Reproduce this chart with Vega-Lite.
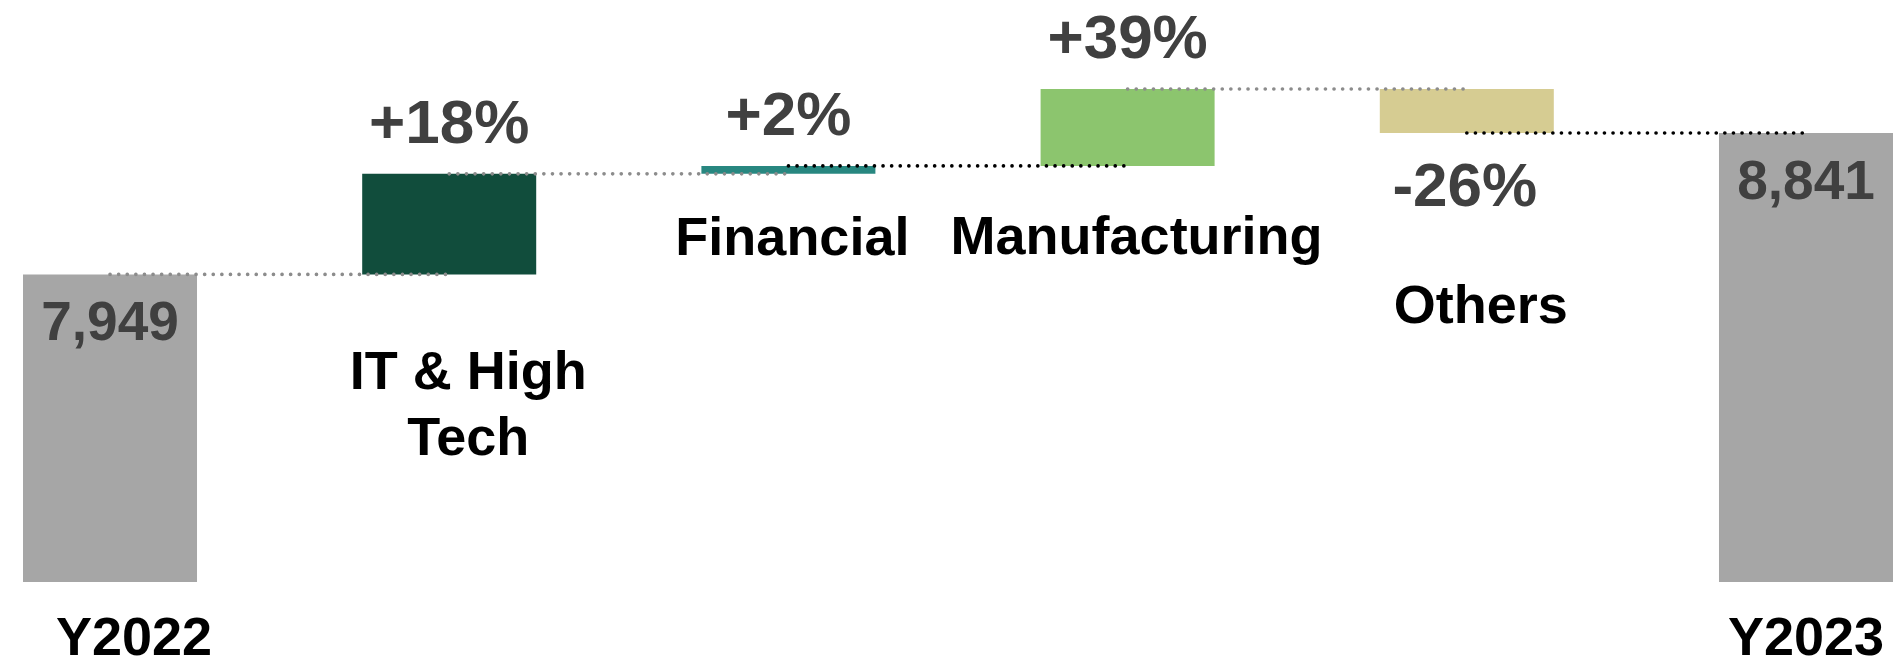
{
  "$schema": "https://vega.github.io/schema/vega-lite/v6.json",
  "width": 1870,
  "height": 582,
  "autosize": {"type": "none"},
  "padding": {"left": 23, "right": 5, "top": 0, "bottom": 80},
  "background": "white",
  "config": {
    "view": {"stroke": null},
    "text": {"font": "Liberation Sans", "fontWeight": "bold", "align": "center", "baseline": "alphabetic"}
  },
  "data": {
    "values": [
      {"cat": "Y2022", "label": "Y2022", "start": 0, "end": 7949, "next": "IT & High Tech", "kind": "total"},
      {"cat": "IT & High Tech", "label": "IT & High\nTech", "start": 7949, "end": 8583, "next": "Financial", "pct": "+18%", "kind": "delta"},
      {"cat": "Financial", "label": "Financial", "start": 8583, "end": 8633, "next": "Manufacturing", "pct": "+2%", "kind": "delta"},
      {"cat": "Manufacturing", "label": "Manufacturing", "start": 8633, "end": 9118, "next": "Others", "pct": "+39%", "kind": "delta"},
      {"cat": "Others", "label": "Others", "start": 9118, "end": 8841, "next": "Y2023", "pct": "-26%", "kind": "delta"},
      {"cat": "Y2023", "label": "Y2023", "start": 0, "end": 8841, "kind": "total"}
    ]
  },
  "encoding": {
    "x": {
      "field": "cat",
      "type": "nominal",
      "axis": null,
      "scale": {
        "domain": ["Y2022", "IT & High Tech", "Financial", "Manufacturing", "Others", "Y2023"],
        "paddingInner": 0.487,
        "paddingOuter": 0
      }
    }
  },
  "layer": [
    {
      "mark": {"type": "bar"},
      "encoding": {
        "y": {
          "field": "start",
          "type": "quantitative",
          "axis": null,
          "scale": {"domain": [6010, 9679], "nice": false, "zero": false, "clamp": true}
        },
        "y2": {"field": "end"},
        "color": {
          "field": "cat",
          "type": "nominal",
          "legend": null,
          "scale": {
            "domain": ["Y2022", "IT & High Tech", "Financial", "Manufacturing", "Others", "Y2023"],
            "range": ["#a6a6a6", "#114d3c", "#288780", "#8cc56e", "#d6cc92", "#a6a6a6"]
          }
        }
      }
    },
    {
      "transform": [
        {"filter": "datum.next != null"},
        {"fold": ["cat", "next"], "as": ["role", "pos"]}
      ],
      "mark": {"type": "line", "strokeWidth": 3.6, "strokeCap": "round", "strokeDash": [0.1, 8.5]},
      "encoding": {
        "x": {"field": "pos", "type": "nominal"},
        "y": {"field": "end", "type": "quantitative"},
        "detail": {"field": "cat", "type": "nominal"},
        "color": {
          "condition": {"test": "datum.cat === 'Financial' || datum.cat === 'Others'", "value": "#000000"},
          "value": "#8c8c8c"
        }
      }
    },
    {
      "transform": [{"filter": "datum.kind === 'total'"}],
      "mark": {"type": "text", "fontSize": 55, "dy": 66, "color": "#404040"},
      "encoding": {
        "y": {"field": "end", "type": "quantitative"},
        "text": {"field": "end", "type": "quantitative", "format": ","}
      }
    },
    {
      "transform": [{"filter": "datum.kind === 'delta' && datum.end > datum.start"}],
      "mark": {"type": "text", "fontSize": 62, "dy": -31, "color": "#404040"},
      "encoding": {
        "y": {"field": "end", "type": "quantitative"},
        "text": {"field": "pct", "type": "nominal"}
      }
    },
    {
      "transform": [{"filter": "datum.kind === 'delta' && datum.end < datum.start"}],
      "mark": {"type": "text", "fontSize": 62, "dy": 73, "dx": -2, "color": "#404040"},
      "encoding": {
        "y": {"field": "end", "type": "quantitative"},
        "text": {"field": "pct", "type": "nominal"}
      }
    },
    {
      "transform": [{"filter": "datum.cat === 'Y2022'"}],
      "mark": {"type": "text", "fontSize": 54, "dy": 73, "dx": 24, "color": "#000000"},
      "encoding": {
        "y": {"field": "start", "type": "quantitative"},
        "text": {"field": "label", "type": "nominal"}
      }
    },
    {
      "transform": [{"filter": "datum.cat === 'Y2023'"}],
      "mark": {"type": "text", "fontSize": 54, "dy": 73, "color": "#000000"},
      "encoding": {
        "y": {"field": "start", "type": "quantitative"},
        "text": {"field": "label", "type": "nominal"}
      }
    },
    {
      "transform": [{"filter": "datum.cat === 'IT & High Tech'"}],
      "mark": {"type": "text", "fontSize": 54, "dy": 115, "dx": 19, "lineBreak": "\n", "lineHeight": 66, "color": "#000000"},
      "encoding": {
        "y": {"field": "start", "type": "quantitative"},
        "text": {"field": "label", "type": "nominal"}
      }
    },
    {
      "transform": [{"filter": "datum.cat === 'Financial'"}],
      "mark": {"type": "text", "fontSize": 54, "dy": 81, "dx": 4, "color": "#000000"},
      "encoding": {
        "y": {"field": "start", "type": "quantitative"},
        "text": {"field": "label", "type": "nominal"}
      }
    },
    {
      "transform": [{"filter": "datum.cat === 'Manufacturing'"}],
      "mark": {"type": "text", "fontSize": 54, "dy": 88, "dx": 9, "color": "#000000"},
      "encoding": {
        "y": {"field": "start", "type": "quantitative"},
        "text": {"field": "label", "type": "nominal"}
      }
    },
    {
      "transform": [{"filter": "datum.cat === 'Others'"}],
      "mark": {"type": "text", "fontSize": 54, "dy": 190, "dx": 14, "color": "#000000"},
      "encoding": {
        "y": {"field": "end", "type": "quantitative"},
        "text": {"field": "label", "type": "nominal"}
      }
    }
  ]
}
